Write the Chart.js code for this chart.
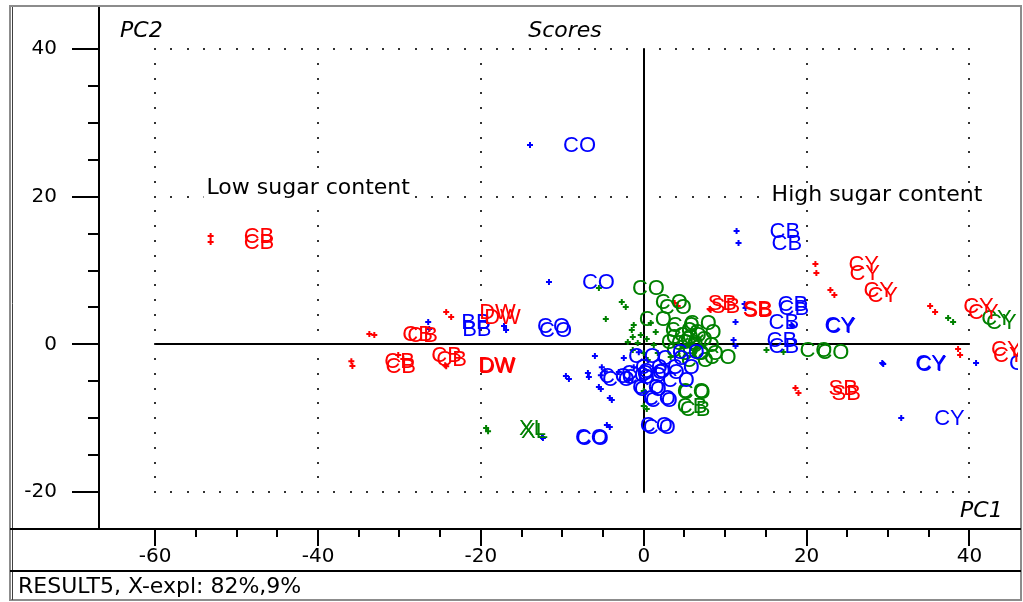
<!DOCTYPE html>
<html>
<head>
<meta charset="utf-8">
<script src="https://cdn.jsdelivr.net/npm/chart.js@4.4.1/dist/chart.umd.min.js"></script>
<style>
  html, body { margin: 0; padding: 0; background: #ffffff; }
  #plot { display: block; }
</style>
</head>
<body>
<canvas id="plot" width="1023" height="602"></canvas>
<script>
// PCA scores (PC1 / PC2), one group per colour
const redPC1 = [-53.19, -53.19, -33.70, -33.09, -35.91, -35.78, -30.15, -29.53, -24.26, -23.65, -24.39, -24.26,
                3.80, 4.17, 8.09, 8.21, 21.08, 21.20, 22.92, 23.41, 35.17, 35.78, 38.60, 38.85, 18.63, 19.00];
const redPC2 = [14.67, 13.86, 1.39, 1.26, -2.27, -2.94, -1.45, -1.99, 4.37, 3.70, -2.82, -2.96,
                5.59, 5.19, 4.78, 4.65, 10.88, 9.66, 7.36, 6.68, 5.19, 4.37, -0.64, -1.45, -5.91, -6.60];
const redNames = ['CB', 'CB', 'CB', 'CB', 'CB', 'CB', 'CB', 'CB', 'DW', 'DW', 'DW', 'DW',
                  'SB', 'SB', 'SB', 'SB', 'CY', 'CY', 'CY', 'CY', 'CY', 'CY', 'CY', 'CY', 'SB', 'SB'];

const bluePC1 = [-13.97, -11.64, -26.47, -26.35, -17.16, -16.91, 11.40, 11.64, 12.38, 12.50, 11.27, 11.03, 11.27,
                 18.14, 18.26, 29.29, 29.41, 40.81, 31.62,
                 -6.00, -9.56, -9.19, -6.86, -6.74, -5.15, -4.78, -5.27, -5.51, -5.27, -4.17, -3.92, -4.53, -4.17,
                 -12.50, -12.38, -1.23, -2.45, -1.84, -3.06, -0.61];
const bluePC2 = [26.99, 8.44, 3.02, 2.07, 2.48, 1.94, 15.35, 13.72, 5.46, 4.92, 3.02, 0.58, -0.23,
                 2.61, 2.48, -2.53, -2.67, -2.53, -9.98,
                 -1.58, -4.29, -4.70, -3.89, -4.43, -3.09, -3.63, -4.17, -5.78, -6.05, -7.27, -7.54, -10.93, -11.20,
                 -12.55, -12.69, -3.09, -1.85, -4.84, -3.75, -1.05];
const blueNames = ['CO', 'CO', 'BB', 'BB', 'CO', 'CO', 'CB', 'CB', 'CB', 'CB', 'CB', 'CB', 'CB',
                   'CY', 'CY', 'CY', 'CY', 'CY', 'CY',
                   'CO', 'CO', 'CO', 'CO', 'CO', 'CO', 'CO', 'CO', 'CO', 'CO', 'CO', 'CO', 'CO', 'CO',
                   'CO', 'CO', 'CO', 'CO', 'CO', 'CO', 'CO'];

const greenPC1 = [-19.36, -19.12, -5.51, -2.70, -2.21, -4.66, -1.47, -1.35, 0.37, 1.47, -1.23, 0.86, -0.37,
                  -1.96, -0.74, 1.23, 0.00, 1.72, 3.31, 0.49, -1.35, 0.00, 0.12, 0.00, 0.37, 15.07, 17.16, 37.38, 37.99];
const greenPC2 = [-11.34, -11.75, 7.63, 5.73, 5.05, 3.43, 1.94, 0.99, 0.72, 1.67, 2.62, 2.89, 1.26,
                  0.31, 0.18, -0.09, -1.18, -1.18, -1.72, -2.13, -0.77, -6.32, -6.46, -8.36, -8.76, -0.77, -1.04, 3.56, 3.02];
const greenNames = ['XL', 'XL', 'CO', 'CO', 'CO', 'CO', 'CO', 'CO', 'CO', 'CO', 'CO', 'CO', 'CO',
                    'CO', 'CO', 'CO', 'CO', 'CO', 'CO', 'CO', 'CO', 'CO', 'CO', 'CB', 'CB', 'CO', 'CO', 'CY', 'CY'];

// axis ticks and reference grid
const pc1Labels = [-60, -40, -20, 0, 20, 40];
const pc2Labels = [-20, 0, 20, 40];
const gridPC1 = [-60, -40, -20, 20, 40];
const gridPC2 = [-20, 20, 40];

// region notes
const noteText = ['Low sugar content', 'High sugar content'];
const notePC1 = [-53.7, 15.7];
const notePC2 = [21.2, 20.2];

const titleText = 'Scores';
const statusText = 'RESULT5, X-expl: 82%,9%';

const SANS = "'DejaVu Sans', sans-serif";
const LABEL_FONT = "22px 'Liberation Sans', Arial, sans-serif";

function toPoints(xs, ys) {
  return xs.map((x, i) => ({ x: x, y: ys[i] }));
}

const groups = [
  { names: redNames, color: '#ff0000', points: toPoints(redPC1, redPC2) },
  { names: blueNames, color: '#0000ff', points: toPoints(bluePC1, bluePC2) },
  { names: greenNames, color: '#008000', points: toPoints(greenPC1, greenPC2) }
];

// keep the axes from reserving room for overhanging tick labels
function fixedBox(size, horizontal) {
  return function (s) {
    if (horizontal) { s.height = size; } else { s.width = size; }
    s.paddingTop = 0;
    s.paddingBottom = 0;
    s.paddingLeft = 0;
    s.paddingRight = 0;
  };
}

const scorePlot = {
  id: 'scorePlot',
  beforeDraw(chart) {
    const ctx = chart.ctx;
    ctx.save();
    ctx.fillStyle = '#ffffff';
    ctx.fillRect(0, 0, chart.width, chart.height);
    ctx.restore();
  },
  beforeDatasetsDraw(chart) {
    const { ctx, scales: { x, y } } = chart;
    ctx.save();
    // dotted reference lines, one dot every 2 units
    ctx.fillStyle = '#333333';
    gridPC2.forEach(g => {
      const py = Math.round(y.getPixelForValue(g));
      for (let v = -60; v <= 40; v += 2) {
        const px = Math.round(x.getPixelForValue(v));
        ctx.fillRect(px - 1, py - 1, 2, 2);
      }
    });
    gridPC1.forEach(g => {
      const px = Math.round(x.getPixelForValue(g));
      for (let v = -20; v <= 40; v += 2) {
        const py = Math.round(y.getPixelForValue(v));
        ctx.fillRect(px - 1, py - 1, 2, 2);
      }
    });
    // solid zero lines
    ctx.strokeStyle = '#000000';
    ctx.lineWidth = 2;
    ctx.beginPath();
    const y0 = Math.round(y.getPixelForValue(0));
    ctx.moveTo(x.getPixelForValue(-60), y0);
    ctx.lineTo(x.getPixelForValue(40), y0);
    const x0 = Math.round(x.getPixelForValue(0));
    ctx.moveTo(x0, y.getPixelForValue(40));
    ctx.lineTo(x0, y.getPixelForValue(-20));
    ctx.stroke();
    // region notes on a white ground
    ctx.font = '22px ' + SANS;
    ctx.textBaseline = 'middle';
    ctx.textAlign = 'left';
    noteText.forEach((t, i) => {
      const px = x.getPixelForValue(notePC1[i]);
      const py = y.getPixelForValue(notePC2[i]);
      const w = ctx.measureText(t).width;
      ctx.fillStyle = '#ffffff';
      ctx.fillRect(px - 3, py - 11, w + 6, 22);
      ctx.fillStyle = '#000000';
      ctx.fillText(t, px, py);
    });
    ctx.restore();
  },
  afterDatasetsDraw(chart) {
    const { ctx, chartArea: a } = chart;
    ctx.save();
    ctx.beginPath();
    ctx.rect(a.left, a.top, a.right - a.left, a.bottom - a.top);
    ctx.clip();
    ctx.font = LABEL_FONT;
    ctx.textBaseline = 'middle';
    ctx.textAlign = 'left';
    for (let d = chart.data.datasets.length - 1; d >= 0; d--) {
      const ds = chart.data.datasets[d];
      const meta = chart.getDatasetMeta(d);
      ctx.fillStyle = ds.borderColor;
      meta.data.forEach((el, i) => {
        ctx.fillText(ds.names[i], el.x + 33, el.y + 1);
      });
    }
    ctx.restore();
  },
  afterDraw(chart) {
    const { ctx, chartArea: a, scales: { x, y } } = chart;
    ctx.save();
    // window frame
    ctx.strokeStyle = '#8c8c8c';
    ctx.lineWidth = 2;
    ctx.strokeRect(10, 6, 1011, 594);
    ctx.strokeStyle = '#404040';
    ctx.lineWidth = 1;
    ctx.beginPath();
    ctx.moveTo(12.5, 7);
    ctx.lineTo(12.5, 600);
    ctx.stroke();
    // axis frame
    ctx.strokeStyle = '#000000';
    ctx.lineWidth = 2;
    ctx.beginPath();
    ctx.moveTo(a.left, 7);
    ctx.lineTo(a.left, a.bottom);
    ctx.moveTo(10, a.bottom);
    ctx.lineTo(1021, a.bottom);
    ctx.moveTo(10, a.bottom + 42);
    ctx.lineTo(1021, a.bottom + 42);
    ctx.stroke();
    // tick marks every 5 units, long ones at labelled values
    ctx.beginPath();
    for (let v = -20; v <= 40; v += 5) {
      const py = Math.round(y.getPixelForValue(v));
      const len = v % 20 === 0 ? 27 : 11;
      ctx.moveTo(a.left - len, py);
      ctx.lineTo(a.left, py);
    }
    for (let v = -60; v <= 40; v += 5) {
      const px = Math.round(x.getPixelForValue(v));
      const len = v % 20 === 0 ? 17 : 8;
      ctx.moveTo(px, a.bottom);
      ctx.lineTo(px, a.bottom + len);
    }
    ctx.stroke();
    // titles
    ctx.fillStyle = '#000000';
    ctx.textBaseline = 'middle';
    ctx.font = 'italic 22px ' + SANS;
    ctx.textAlign = 'center';
    ctx.fillText(titleText, 565, a.top + 23);
    ctx.textAlign = 'left';
    ctx.fillText('PC2', a.left + 21, a.top + 23);
    ctx.fillText('PC1', a.right - 58, a.bottom - 18);
    // status line
    ctx.font = '22px ' + SANS;
    ctx.fillText(statusText, 18, a.bottom + 58);
    ctx.restore();
  }
};

const tickFont = { family: SANS, size: 20 };

new Chart(document.getElementById('plot').getContext('2d'), {
  type: 'scatter',
  data: {
    datasets: groups.map(g => ({
      data: g.points,
      names: g.names,
      borderColor: g.color,
      backgroundColor: g.color,
      pointStyle: 'cross',
      pointRadius: 3,
      pointHoverRadius: 3,
      pointBorderWidth: 2
    }))
  },
  options: {
    responsive: false,
    animation: false,
    devicePixelRatio: 1,
    events: [],
    layout: { padding: { left: 10, top: 8, right: 3, bottom: 31 } },
    plugins: { legend: { display: false }, tooltip: { enabled: false } },
    scales: {
      x: {
        type: 'linear',
        position: 'bottom',
        min: -66.9,
        max: 45.96,
        afterFit: fixedBox(42, true),
        afterBuildTicks(s) { s.ticks = pc1Labels.map(v => ({ value: v })); },
        grid: { display: true, drawOnChartArea: false, drawTicks: false, color: 'rgba(0,0,0,0)' },
        border: { display: false },
        ticks: { autoSkip: false, maxRotation: 0, padding: 16, color: '#000000', font: tickFont }
      },
      y: {
        type: 'linear',
        position: 'left',
        min: -25.0,
        max: 45.55,
        afterFit: fixedBox(89, false),
        afterBuildTicks(s) { s.ticks = pc2Labels.map(v => ({ value: v })); },
        grid: { display: true, drawOnChartArea: false, drawTicks: false, color: 'rgba(0,0,0,0)' },
        border: { display: false },
        ticks: { autoSkip: false, padding: 42, color: '#000000', font: tickFont }
      }
    }
  },
  plugins: [scorePlot]
});
</script>
</body>
</html>
